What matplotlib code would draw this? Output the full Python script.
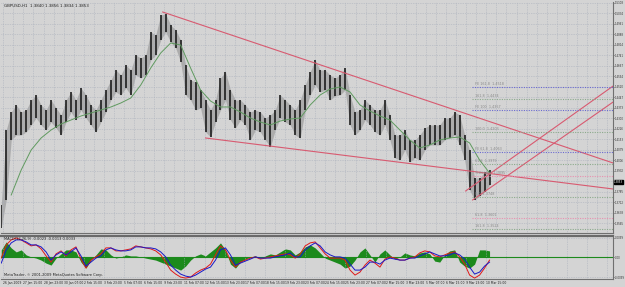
import numpy as np
import matplotlib
matplotlib.use("Agg")
import matplotlib.pyplot as plt

# GBPUSD H1 - one sample every ~5 px of the original chart
highs = [1.3692, 1.4217, 1.4343, 1.4392, 1.4343, 1.4357, 1.4427, 1.4462, 1.4392, 1.4357,
         1.4427, 1.4371, 1.4322, 1.4427, 1.4483, 1.4427, 1.4511, 1.4462, 1.4392, 1.4357,
         1.4427, 1.4497, 1.4567, 1.4637, 1.4602, 1.4672, 1.4637, 1.4742, 1.4721, 1.4742,
         1.4903, 1.4882, 1.5022, 1.5029, 1.4952, 1.4917, 1.4847, 1.4672, 1.4567, 1.4553,
         1.4497, 1.4427, 1.4357, 1.4427, 1.4581, 1.4623, 1.4497, 1.4427, 1.4427, 1.4392,
         1.4343, 1.4357, 1.4343, 1.4301, 1.4322, 1.4357, 1.4462, 1.4427, 1.4392, 1.4357,
         1.4427, 1.4532, 1.4623, 1.4707, 1.4637, 1.4637, 1.4602, 1.4581, 1.4602, 1.4651,
         1.4462, 1.4343, 1.4357, 1.4427, 1.4392, 1.4357, 1.4357, 1.4427, 1.4322, 1.4182,
         1.4182, 1.4217, 1.4147, 1.4147, 1.4182, 1.4231, 1.4252, 1.4252, 1.4252, 1.4301,
         1.4301, 1.4343, 1.4322, 1.4182, 1.4077, 1.3881, 1.3881, 1.3923, 1.3937]
lows = [1.3531, 1.3727, 1.4147, 1.4182, 1.4182, 1.4203, 1.4252, 1.4301, 1.4252, 1.4217,
        1.4273, 1.4231, 1.4182, 1.4273, 1.4343, 1.4287, 1.4357, 1.4301, 1.4252, 1.4203,
        1.4273, 1.4343, 1.4427, 1.4483, 1.4462, 1.4511, 1.4462, 1.4602, 1.4581, 1.4602,
        1.4707, 1.4742, 1.4847, 1.4903, 1.4833, 1.4791, 1.4693, 1.4462, 1.4427, 1.4357,
        1.4371, 1.4203, 1.4168, 1.4273, 1.4357, 1.4427, 1.4287, 1.4231, 1.4287, 1.4252,
        1.4147, 1.4217, 1.4203, 1.4147, 1.4098, 1.4217, 1.4301, 1.4273, 1.4252, 1.4182,
        1.4161, 1.4357, 1.4462, 1.4532, 1.4483, 1.4497, 1.4427, 1.4455, 1.4462, 1.4497,
        1.4252, 1.4182, 1.4217, 1.4287, 1.4252, 1.4203, 1.4182, 1.4252, 1.4147, 1.4021,
        1.4007, 1.4077, 1.3993, 1.4021, 1.4007, 1.4077, 1.4112, 1.4112, 1.4112, 1.4147,
        1.4161, 1.4182, 1.4112, 1.4007, 1.3797, 1.3727, 1.3755, 1.3783, 1.3832]

# moving average, one value every second sample starting at sample 2
ma = [1.3762, 1.3937, 1.4077, 1.4161, 1.4217, 1.4259, 1.4287, 1.4315, 1.4336, 1.4357,
      1.4378, 1.4406, 1.4441, 1.4532, 1.4651, 1.4756, 1.4826, 1.4812, 1.4651, 1.4497,
      1.4420, 1.4378, 1.4378, 1.4343, 1.4301, 1.4273, 1.4252, 1.4280, 1.4294, 1.4301,
      1.4392, 1.4462, 1.4504, 1.4518, 1.4483, 1.4392, 1.4350, 1.4315, 1.4287, 1.4217,
      1.4147, 1.4091, 1.4112, 1.4147, 1.4161, 1.4168, 1.4126, 1.4007, 1.3916]

# MACD panel
macd_blue = [-0.0028, 0.0038, 0.0073, 0.0088, 0.0088, 0.0078, 0.0063, 0.0063, 0.0053, 0.0028,
             -0.0013, 0.0013, 0.0028, 0.0013, 0.0028, 0.0048, 0.0008, -0.0043, -0.0023, -0.0003,
             0.0008, 0.0038, 0.0048, 0.0038, 0.0033, 0.0033, 0.0038, 0.0053, 0.0053, 0.0048,
             0.0048, 0.0043, 0.0028, 0.0003, -0.0038, -0.0063, -0.0083, -0.0093, -0.0098, -0.0088,
             -0.0073, -0.0058, -0.0048, -0.0013, 0.0038, 0.0048, 0.0013, -0.0038, -0.0028, -0.0018,
             -0.0008, 0.0003, -0.0003, -0.0003, -0.0003, 0.0003, 0.0008, 0.0013, 0.0023, 0.0003,
             0.0003, 0.0038, 0.0058, 0.0073, 0.0058, 0.0028, 0.0013, 0.0003, 0.0003, -0.0003,
             -0.0033, -0.0063, -0.0063, -0.0048, -0.0023, -0.0023, -0.0033, -0.0013, -0.0003, -0.0008,
             -0.0013, -0.0013, -0.0003, -0.0003, 0.0008, 0.0018, 0.0028, 0.0018, 0.0008, 0.0008,
             0.0013, 0.0023, 0.0013, -0.0008, -0.0048, -0.0083, -0.0073, -0.0043, -0.0023]
macd_red = [-0.0003, 0.0063, 0.0088, 0.0098, 0.0088, 0.0073, 0.0058, 0.0063, 0.0043, 0.0008,
            -0.0023, 0.0018, 0.0033, 0.0008, 0.0038, 0.0053, -0.0008, -0.0053, -0.0013, 0.0003,
            0.0018, 0.0048, 0.0048, 0.0033, 0.0033, 0.0038, 0.0043, 0.0058, 0.0053, 0.0048,
            0.0043, 0.0033, 0.0013, -0.0023, -0.0063, -0.0083, -0.0098, -0.0103, -0.0098, -0.0078,
            -0.0063, -0.0053, -0.0033, 0.0013, 0.0058, 0.0038, -0.0013, -0.0048, -0.0023, -0.0013,
            -0.0003, 0.0003, -0.0008, -0.0003, 0.0003, 0.0008, 0.0013, 0.0018, 0.0013, -0.0003,
            0.0018, 0.0058, 0.0073, 0.0078, 0.0048, 0.0018, -0.0003, -0.0003, -0.0003, -0.0013,
            -0.0063, -0.0088, -0.0073, -0.0038, -0.0013, -0.0028, -0.0048, -0.0008, 0.0003, -0.0003,
            -0.0013, -0.0013, -0.0003, 0.0003, 0.0023, 0.0033, 0.0028, 0.0008, 0.0003, 0.0013,
            0.0023, 0.0028, 0.0003, -0.0033, -0.0088, -0.0103, -0.0088, -0.0053, -0.0013]
macd_hist = [0.0038, 0.0078, 0.0048, 0.0028, 0.0038, 0.0013, 0.0003, -0.0003, -0.0013, -0.0028,
             -0.0038, -0.0003, 0.0018, 0.0038, 0.0038, 0.0028, -0.0023, -0.0053, -0.0013, 0.0013,
             0.0043, 0.0038, 0.0013, -0.0003, 0.0003, 0.0013, 0.0008, 0.0008, 0.0003, -0.0003,
             -0.0008, -0.0013, -0.0023, -0.0033, -0.0043, -0.0053, -0.0063, -0.0043, -0.0013, 0.0008,
             0.0018, 0.0008, 0.0028, 0.0048, 0.0073, 0.0038, -0.0033, -0.0053, -0.0023, -0.0008,
             0.0003, 0.0008, -0.0003, 0.0008, 0.0018, 0.0013, 0.0028, 0.0043, 0.0038, 0.0013,
             0.0028, 0.0053, 0.0063, 0.0048, 0.0023, -0.0003, -0.0013, -0.0023, -0.0033, -0.0053,
             -0.0043, -0.0013, 0.0028, 0.0048, 0.0013, -0.0023, 0.0018, 0.0038, 0.0013, -0.0008,
             0.0003, 0.0023, 0.0013, 0.0008, 0.0023, 0.0028, 0.0018, -0.0018, -0.0023, 0.0013,
             0.0033, 0.0038, -0.0023, -0.0043, -0.0053, -0.0033, 0.0038, 0.0038, 0.0033]

# trendlines: (sample, price) pairs
trend_upper = [(32.4, 1.5043), (122.8, 1.3986)]
trend_lower = [(41.0, 1.4161), (122.8, 1.3804)]
channel_1 = [(93.2, 1.3790), (122.8, 1.4525)]
channel_2 = [(94.6, 1.3727), (122.8, 1.4413)]

# fibo levels on the right
fib_prices = [1.4518, 1.4434, 1.4357, 1.4203, 1.4063, 1.3979, 1.3895, 1.3748, 1.3601, 1.3524]
fib_names = ["FE 161.8", "161.8", "FE 100", "100.0", "FE 61.8", "61.8", "Yesterday",
             "0.0", "61.8", "161.8"]
fib_colors = ["#6a6ad0", "#8caa8c", "#6a6ad0", "#8caa8c", "#6a6ad0", "#8caa8c", "#e890b0",
              "#8caa8c", "#e890b0", "#8caa8c"]

time_labels = ["26 Jan 2009", "27 Jan 15:00", "28 Jan 23:00", "30 Jan 07:00", "2 Feb 15:00",
               "3 Feb 23:00", "5 Feb 07:00", "6 Feb 15:00", "9 Feb 23:00", "11 Feb 07:00",
               "12 Feb 15:00", "13 Feb 23:00", "17 Feb 07:00", "18 Feb 15:00", "19 Feb 23:00",
               "23 Feb 07:00", "24 Feb 15:00", "25 Feb 23:00", "27 Feb 07:00", "2 Mar 15:00",
               "3 Mar 23:00", "5 Mar 07:00", "6 Mar 15:00", "9 Mar 23:00", "10 Mar 15:00"]

last_price = 1.3853

bg = "#d4d4d4"
grid_c = "#aab0bc"
fs = 1.9

fig = plt.figure(figsize=(6.25, 2.87), dpi=100)
fig.patch.set_facecolor(bg)

ax = fig.add_axes([0.002, 0.1882, 0.9790, 0.8048])
ax2 = fig.add_axes([0.002, 0.0279, 0.9790, 0.1498])

x = np.arange(len(highs))
xmin, xmax = 0, 122.8

for a in (ax, ax2):
    a.set_facecolor(bg)
    a.set_xlim(xmin, xmax)
    a.grid(True, color=grid_c, linestyle=(0, (1, 1.5)), linewidth=0.5)
    a.yaxis.tick_right()
    a.tick_params(axis="y", length=1.0, width=0.5, pad=0.3, labelsize=fs, colors="#303030")
    a.tick_params(axis="x", length=0, labelbottom=False)
    for s in a.spines.values():
        s.set_color("#707070")
        s.set_linewidth(0.8)
    a.spines["left"].set_visible(False)
    a.spines["top"].set_visible(False)

ax.set_xticks(np.arange(0.4, xmax, 2.02))
ax2.set_xticks(np.arange(0.4, xmax, 4.04))

# price panel
ylo, yhi = 1.3496, 1.5113
ax.set_ylim(ylo, yhi)
ticks = np.arange(1.5108, ylo, -0.00735)
ax.set_yticks(ticks)
ax.set_yticklabels(["%.4f" % t for t in ticks])

ax.fill_between(x, lows, highs, color="#8c8c8c", linewidth=0, alpha=0.55)
ax.vlines(x, lows, highs, color="#111111", linewidth=1.1)
ax.plot(np.arange(len(ma)) * 2 + 2, ma, color="#5f9a5f", linewidth=0.7)

for tl in (trend_upper, trend_lower, channel_1, channel_2):
    (x0, p0), (x1, p1) = tl
    ax.plot([x0, x1], [p0, p1], color="#d85a70", linewidth=0.8)

for p, n, c in zip(fib_prices, fib_names, fib_colors):
    ax.plot([94.4, xmax], [p, p], color=c, linewidth=0.8, linestyle=(0, (1, 1.2)))
    ax.text(95.0, p + 0.0006, "%s  %.4f" % (n, p), fontsize=2.4, color="#8a8a8a",
            ha="left", va="bottom")

ax.text(0.6, yhi - 0.0012, "GBPUSD,H1  1.3840 1.3856 1.3834 1.3853", fontsize=2.9,
        color="#202020", ha="left", va="top")

ax.text(xmax + 0.2, last_price, "%.4f" % last_price, fontsize=fs, color="white",
        ha="left", va="center", clip_on=False,
        bbox=dict(boxstyle="square,pad=0.1", fc="black", ec="black"))

# MACD panel
ax2.set_ylim(-0.01075, 0.01075)
ax2.set_yticks([0.0099, 0.0, -0.0099])
ax2.set_yticklabels(["0.0099", "0.00", "-0.0099"])
ax2.fill_between(x, 0, macd_hist, color="#1c8a1c", linewidth=0)
ax2.axhline(0, color="#1c8a1c", linewidth=0.8)
ax2.plot(x, macd_red, color="#e01818", linewidth=0.7)
ax2.plot(x, macd_blue, color="#1818c8", linewidth=0.7)
ax2.text(0.6, 0.0102, "MACD(12,26,9) -0.0023 -0.0013 0.0033", fontsize=2.6,
         color="#202020", ha="left", va="top")
ax2.text(0.6, -0.0100, "MetaTrader, \u00a9 2001-2009 MetaQuotes Software Corp.",
         fontsize=2.6, color="#202020", ha="left", va="bottom")
ax2.spines["top"].set_visible(True)
ax2.spines["top"].set_linewidth(1.6)
ax2.spines["top"].set_color("#6a6a6a")

for k, lab in enumerate(time_labels):
    ax2.text(0.4 + 4.04 * k, -0.0118, lab, fontsize=2.2, color="#202020",
             ha="left", va="top", clip_on=False)

fig.savefig("out.png", dpi=100, facecolor=bg)
